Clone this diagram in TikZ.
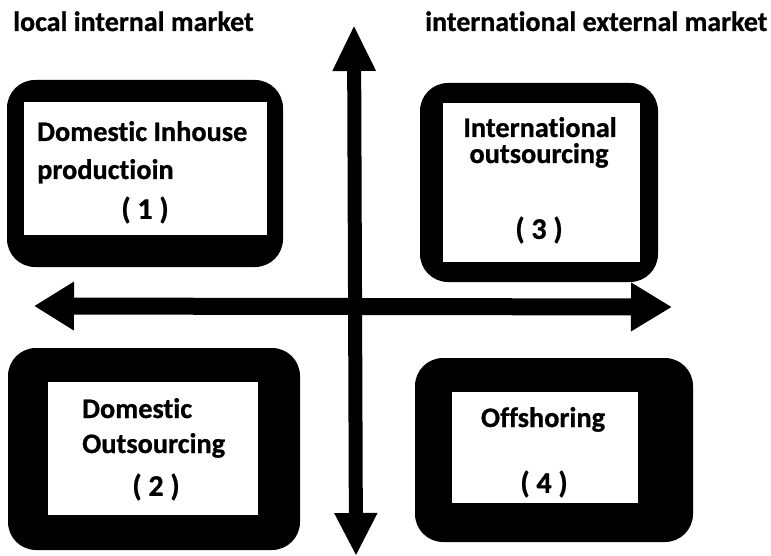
\documentclass[tikz,border=0pt]{standalone}
\usepackage{fontspec}
\setmainfont{Carlito}[RawFeature={-liga},BoldFeatures={FakeBold=0.8}]
\usetikzlibrary{arrows.meta}

\tikzset{
  frame/.style={fill=black,rounded corners=28pt},
  pane/.style={fill=white},
  title/.style={font=\bfseries\fontsize{28}{32}\selectfont,inner sep=0pt,anchor=base west},
  txt/.style={font=\bfseries\fontsize{28.3}{32}\selectfont,inner sep=0pt},
  num/.style={font=\bfseries\fontsize{30}{32}\selectfont,inner sep=0pt},
}

\begin{document}
\begin{tikzpicture}[x=1pt,y=-1pt]
\useasboundingbox (0,0) rectangle (771,556);

%\draw[step=50,gray,very thin] (0,0) grid (771,556); %background grid

% market headings
\node[title] (local) at (13,31) {local internal market};
\node[title] (intl) at (425,31) {international external market};

% quadrant frames
\fill[frame] (7,80) rectangle (283,267);
\fill[pane] (24,102) rectangle (267,235);

\fill[frame] (420,83) rectangle (658,282);
\fill[pane] (443,103) rectangle (640,262);

\fill[frame] (8,348) rectangle (300,550);
\fill[pane] (48,382) rectangle (258,515);

\fill[frame] (415,358) rectangle (693,542);
\fill[pane] (452,392) rectangle (638,503);

% quadrant texts
\node[txt,anchor=base west] (q1a) at (37,141) {Domestic Inhouse};
\node[txt,anchor=base west] (q1b) at (37,179) {productioin};
\node[num] (q1n) at (145,210) {( 1 )};

\node[txt,anchor=base west] (q2a) at (82,418) {Domestic};
\node[txt,anchor=base west] (q2b) at (82,453) {Outsourcing};
\node[num] (q2n) at (156,487) {( 2 )};

\node[txt,anchor=base] (q3a) at (540,137) {International};
\node[txt,anchor=base] (q3b) at (539,163) {outsourcing};
\node[num] (q3n) at (539,230) {( 3 )};

\node[txt,anchor=base] (q4a) at (543,427) {Offshoring};
\node[num] (q4n) at (544,484) {( 4 )};

% axes
\coordinate (top) at (354,25);
\coordinate (bot) at (356,556);
\coordinate (lft) at (34,306);
\coordinate (rgt) at (672,307);

\draw[line width=14pt,{Triangle[length=46pt,width=40pt]}-{Triangle[length=43pt,width=40pt]}] (top) -- (bot); %y
\draw[line width=17pt,{Triangle[length=40pt,width=46pt]}-{Triangle[length=41pt,width=46pt]}] (lft) -- (rgt); %x

\end{tikzpicture}
\end{document}
